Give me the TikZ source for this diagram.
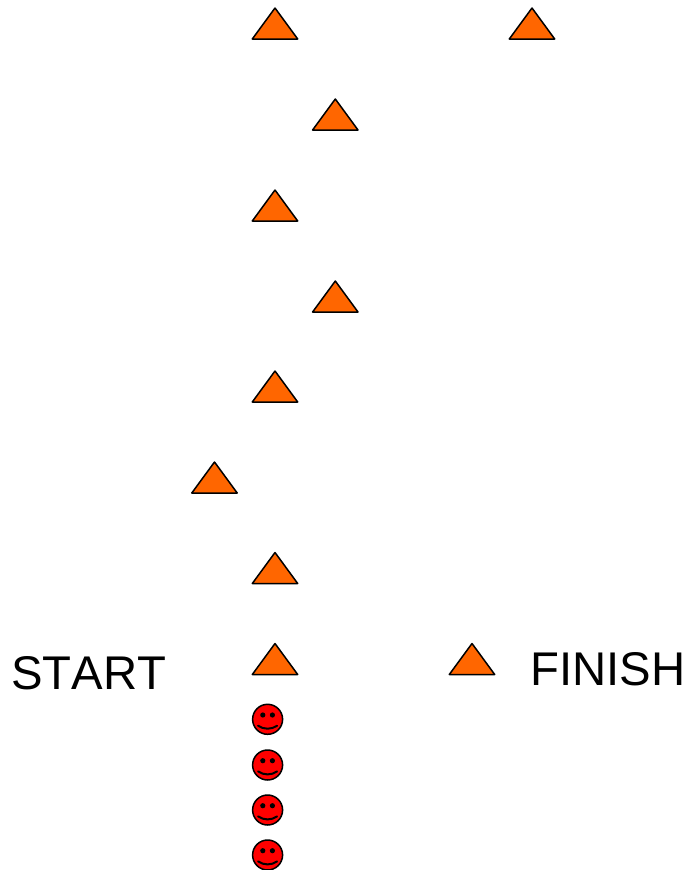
\documentclass[tikz,border=0pt]{standalone}
\usepackage{fontspec}
\setmainfont{Liberation Sans}[Kerning=Off]
\definecolor{tri}{RGB}{255,102,0}
\tikzset{
  px/.style={x=1pt,y=-1pt},
  outline/.style={draw=black,line width=1.5pt,line join=round},
  peak/.pic={\draw[outline,fill=tri] (0,0) -- (22.7,31) -- (-22.7,31) -- cycle;},
  smiley/.pic={
    \draw[draw=black,line width=1.5pt,fill=red] (0,0) circle[radius=15];
    \fill[black] (-4.8,-4.3) circle[radius=2.6] (4.8,-4.3) circle[radius=2.6];
    \draw[black,line width=2pt,line cap=round] (-9.5,6.4) .. controls (-4,10.4) and (4,10.4) .. (9.5,6.4);
  },
  label/.style={font=\fontsize{47.3}{47.3}\selectfont,anchor=base west,inner sep=0pt,text=black}
}
\begin{document}
\begin{tikzpicture}[px]
\useasboundingbox (0,0) rectangle (687,870);
\foreach \a/\b in {275/8,532/8,335.3/99,275/190,335.3/281,275/371,214.5/462,275/552.5,275/643.5,472/643.5}
  \pic at (\a,\b) {peak};
\foreach \b in {719.3,765,810,855}
  \pic at (267.6,\b) {smiley};
\node[label] (start) at (11,689) {START};
\node[label] (finish) at (530,685) {FINISH};
\end{tikzpicture}
\end{document}
